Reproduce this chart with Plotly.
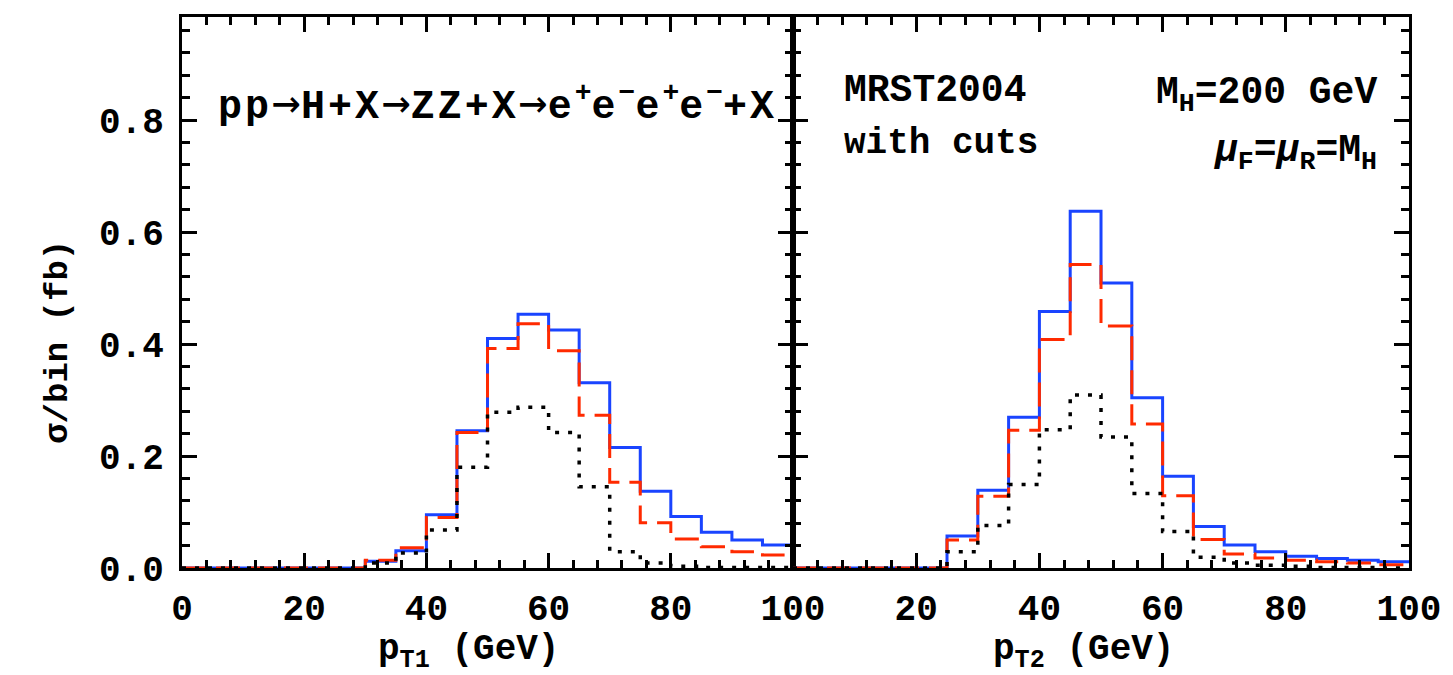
import plotly.graph_objects as go

# ---------------- data ----------------
bin_edges = [0, 5, 10, 15, 20, 25, 30, 35, 40, 45, 50, 55, 60, 65, 70, 75, 80, 85, 90, 95, 100]

# left panel: p_T1
pt1_blue = [0, 0, 0, 0, 0, 0, 0.012, 0.031, 0.095, 0.245, 0.410, 0.453, 0.425, 0.331, 0.215, 0.137, 0.092, 0.064, 0.050, 0.041]
pt1_red = [0, 0, 0, 0, 0, 0, 0.014, 0.036, 0.090, 0.242, 0.392, 0.436, 0.388, 0.273, 0.153, 0.081, 0.052, 0.038, 0.029, 0.023]
pt1_black = [0, 0, 0, 0, 0, 0, 0.009, 0.027, 0.068, 0.180, 0.278, 0.287, 0.242, 0.145, 0.029, 0.009, 0.003, 0.001, 0.001, 0.001]

# right panel: p_T2
pt2_blue = [0, 0, 0, 0, 0, 0.057, 0.139, 0.269, 0.458, 0.637, 0.509, 0.304, 0.164, 0.074, 0.041, 0.029, 0.021, 0.017, 0.014, 0.011]
pt2_red = [0, 0, 0, 0, 0, 0.050, 0.128, 0.246, 0.408, 0.542, 0.432, 0.257, 0.129, 0.051, 0.025, 0.018, 0.014, 0.011, 0.009, 0.006]
pt2_black = [0, 0, 0, 0, 0, 0.029, 0.076, 0.149, 0.247, 0.309, 0.234, 0.133, 0.065, 0.019, 0.009, 0.005, 0.003, 0.001, 0.001, 0.0]

x_ticks_left = [0, 20, 40, 60, 80, 100]
x_ticks_right = [20, 40, 60, 80, 100]
y_ticks = [0.0, 0.2, 0.4, 0.6, 0.8]

# ---------------- style ----------------
W, H = 1453, 675
PL, PR, PT, PB = 182, 1417, 17, 568
FONT = "Liberation Mono"
BLUE = "#1a44ff"
RED = "#ff2a00"
BLACK = "#000000"


def px2paper_x(px):
    return (px - PL) / (PR - PL)


def px2paper_y(py):
    return (PB - py) / (PB - PT)


def steps(vals):
    return list(vals) + [vals[-1]]


fig = go.Figure()

series = [
    (pt1_blue, pt1_red, pt1_black, "x", "y"),
    (pt2_blue, pt2_red, pt2_black, "x2", "y2"),
]
for blue, red, black, xa, ya in series:
    fig.add_trace(go.Scatter(x=bin_edges, y=steps(blue), mode="lines", line_shape="hv",
                             line=dict(color=BLUE, width=3), xaxis=xa, yaxis=ya, showlegend=False))
    fig.add_trace(go.Scatter(x=bin_edges, y=steps(red), mode="lines", line_shape="hv",
                             line=dict(color=RED, width=3, dash="24px,10px"), xaxis=xa, yaxis=ya, showlegend=False))
    fig.add_trace(go.Scatter(x=bin_edges, y=steps(black), mode="lines", line_shape="hv",
                             line=dict(color=BLACK, width=3.5, dash="4px,9px"), xaxis=xa, yaxis=ya, showlegend=False))

split = px2paper_x(797)
tickfont = dict(family=FONT, size=36, color="black", weight="bold")

common_x = dict(range=[0, 100], showline=True, linecolor="black", linewidth=3, mirror="ticks",
                ticks="inside", ticklen=15, tickwidth=2.5, tickcolor="black",
                minor=dict(dtick=4, ticks="inside", ticklen=8, tickwidth=2.5, tickcolor="black"),
                showgrid=False, zeroline=False, tickfont=tickfont, ticklabelstandoff=6)
common_y = dict(range=[0, 0.984], showline=True, linecolor="black", linewidth=3, mirror="ticks",
                ticks="inside", ticklen=15, tickwidth=2.5, tickcolor="black",
                tickvals=y_ticks, tickformat=".1f",
                minor=dict(dtick=0.04, ticks="inside", ticklen=8, tickwidth=2.5, tickcolor="black"),
                showgrid=False, zeroline=False, tickfont=tickfont)

fig.update_layout(
    width=W, height=H,
    margin=dict(l=PL, r=W - PR, t=PT, b=H - PB),
    paper_bgcolor="white", plot_bgcolor="white",
    xaxis=dict(domain=[0, split], tickvals=x_ticks_left, anchor="y", **common_x),
    xaxis2=dict(domain=[split, 1], tickvals=x_ticks_right, anchor="y2", **common_x),
    yaxis=dict(domain=[0, 1], anchor="x", ticklabelstandoff=8, **common_y),
    yaxis2=dict(domain=[0, 1], anchor="x2", showticklabels=False, **common_y),
)

LS = '<span style="letter-spacing:3px">'
ARROW = '<span style="font-family:DejaVu Sans Mono;font-size:48px;font-weight:normal">→</span>'
ann_font = dict(family=FONT, size=38, color="black", weight="bold")
process = (LS + 'pp</span>' + ARROW +
           LS + 'H+X</span>' + ARROW +
           LS + 'ZZ+X</span>' + ARROW +
           LS + 'e</span><sup>+</sup>' +
           LS + 'e</span><sup>−</sup>' +
           LS + 'e</span><sup>+</sup>' +
           LS + 'e</span><sup>−</sup>' +
           LS + '+X</span>')
annotations = [
    dict(text=process, x=px2paper_x(216), y=px2paper_y(101), xanchor="left", yanchor="middle",
         font=dict(family=FONT, size=40, color="black", weight="bold")),
    dict(text="MRST2004", x=px2paper_x(846), y=px2paper_y(90), xanchor="left", yanchor="middle", font=ann_font),
    dict(text="with cuts", x=px2paper_x(846), y=px2paper_y(143), xanchor="left", yanchor="middle",
         font=dict(family=FONT, size=36, color="black", weight="bold")),
    dict(text="M<sub>H</sub>=200 GeV", x=px2paper_x(1387), y=px2paper_y(95), xanchor="right", yanchor="middle", font=ann_font),
    dict(text="<i>μ</i><sub>F</sub>=<i>μ</i><sub>R</sub>=M<sub>H</sub>", x=px2paper_x(1387), y=px2paper_y(153),
         xanchor="right", yanchor="middle", font=ann_font),
    dict(text="p<sub>T1</sub> (GeV)", x=px2paper_x(470), y=px2paper_y(652), xanchor="center", yanchor="middle",
         font=dict(family=FONT, size=36, color="black", weight="bold")),
    dict(text="p<sub>T2</sub> (GeV)", x=px2paper_x(1089), y=px2paper_y(652), xanchor="center", yanchor="middle",
         font=dict(family=FONT, size=36, color="black", weight="bold")),
    dict(text="σ/bin (fb)", x=px2paper_x(57), y=px2paper_y(342), xanchor="center", yanchor="middle", textangle=-90,
         font=dict(family=FONT, size=34, color="black", weight="bold")),
]
for a in annotations:
    a.update(xref="paper", yref="paper", showarrow=False)
fig.update_layout(annotations=annotations)

fig.write_html("out.html")
